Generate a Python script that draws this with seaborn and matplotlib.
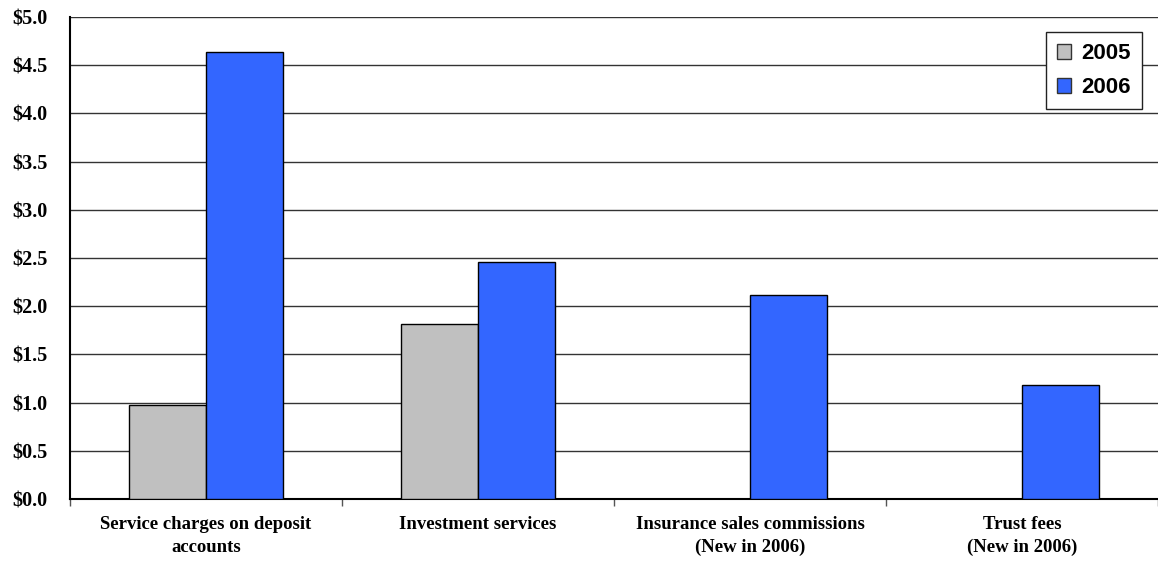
import matplotlib
matplotlib.use("Agg")
import matplotlib.pyplot as plt
import pandas as pd
import seaborn as sns
from matplotlib.patches import Patch
from matplotlib.ticker import FixedLocator, MultipleLocator, FuncFormatter

# data
categories = ["Service charges on deposit\naccounts", "Investment services",
              "Insurance sales commissions\n(New in 2006)", "Trust fees\n(New in 2006)"]
values_2005 = [0.97, 1.82, 0.0, 0.0]
values_2006 = [4.64, 2.46, 2.12, 1.18]
years = ["2005", "2006"]
colors = {"2005": "#C0C0C0", "2006": "#3366FF"}

df = pd.DataFrame({
    "category": categories * 2,
    "year": [years[0]] * 4 + [years[1]] * 4,
    "value": values_2005 + values_2006,
})

sns.set_style("white")
serif = ["Liberation Serif", "DejaVu Serif"]

fig = plt.figure(figsize=(11.58, 5.61), dpi=100)
ax = fig.add_axes([0.0604, 0.1105, 0.9396, 0.8592])

sns.barplot(data=df, x="category", y="value", hue="year", order=categories,
            palette=colors, width=0.565, edgecolor="black", linewidth=1.0,
            saturation=1, ax=ax, zorder=3, legend=False)

# empty bars (no 2005 value) are not drawn
for bar in ax.patches:
    if bar.get_height() == 0:
        bar.set_visible(False)

ax.set_ylim(0, 5.0)
ax.set_xlim(-0.5, 3.5)
ax.yaxis.set_major_locator(MultipleLocator(0.5))
ax.yaxis.set_major_formatter(FuncFormatter(lambda v, p: f"${v:.1f}"))
ax.grid(axis="y", color="#333333", linewidth=1.0, zorder=0)
ax.set_axisbelow(True)

ax.xaxis.set_minor_locator(FixedLocator([-0.5, 0.5, 1.5, 2.5, 3.5]))
ax.tick_params(axis="x", which="major", length=0, pad=12)
ax.tick_params(axis="x", which="minor", length=5, width=1, color="#555555", bottom=True)
ax.tick_params(axis="y", length=0, pad=16)

for lab in ax.get_xticklabels():
    lab.set_fontfamily(serif)
    lab.set_fontweight("bold")
    lab.set_fontsize(13.5)
    lab.set_color("black")
    lab.set_linespacing(1.45)
for lab in ax.get_yticklabels():
    lab.set_fontfamily(serif)
    lab.set_fontweight("bold")
    lab.set_fontsize(14.5)
    lab.set_color("black")

ax.set_xlabel("")
ax.set_ylabel("")

for side in ["top", "right"]:
    ax.spines[side].set_visible(False)
for side in ["left", "bottom"]:
    ax.spines[side].set_color("black")
    ax.spines[side].set_linewidth(1.5)

handles = [Patch(facecolor=colors[y], edgecolor="#333333", linewidth=1.0) for y in years]
leg = ax.legend(handles, years, loc="upper right", bbox_to_anchor=(0.985, 0.969), frameon=True,
                fancybox=False, edgecolor="#222222", handlelength=0.65, handleheight=0.65,
                handletextpad=0.45, borderpad=0.5, labelspacing=0.6, borderaxespad=0,
                prop={"family": ["Liberation Sans", "DejaVu Sans"], "weight": "bold", "size": 16})
leg.get_frame().set_linewidth(1.0)
leg.get_frame().set_alpha(1)
for t in leg.get_texts():
    t.set_color("black")

fig.savefig("out.png", dpi=100)
